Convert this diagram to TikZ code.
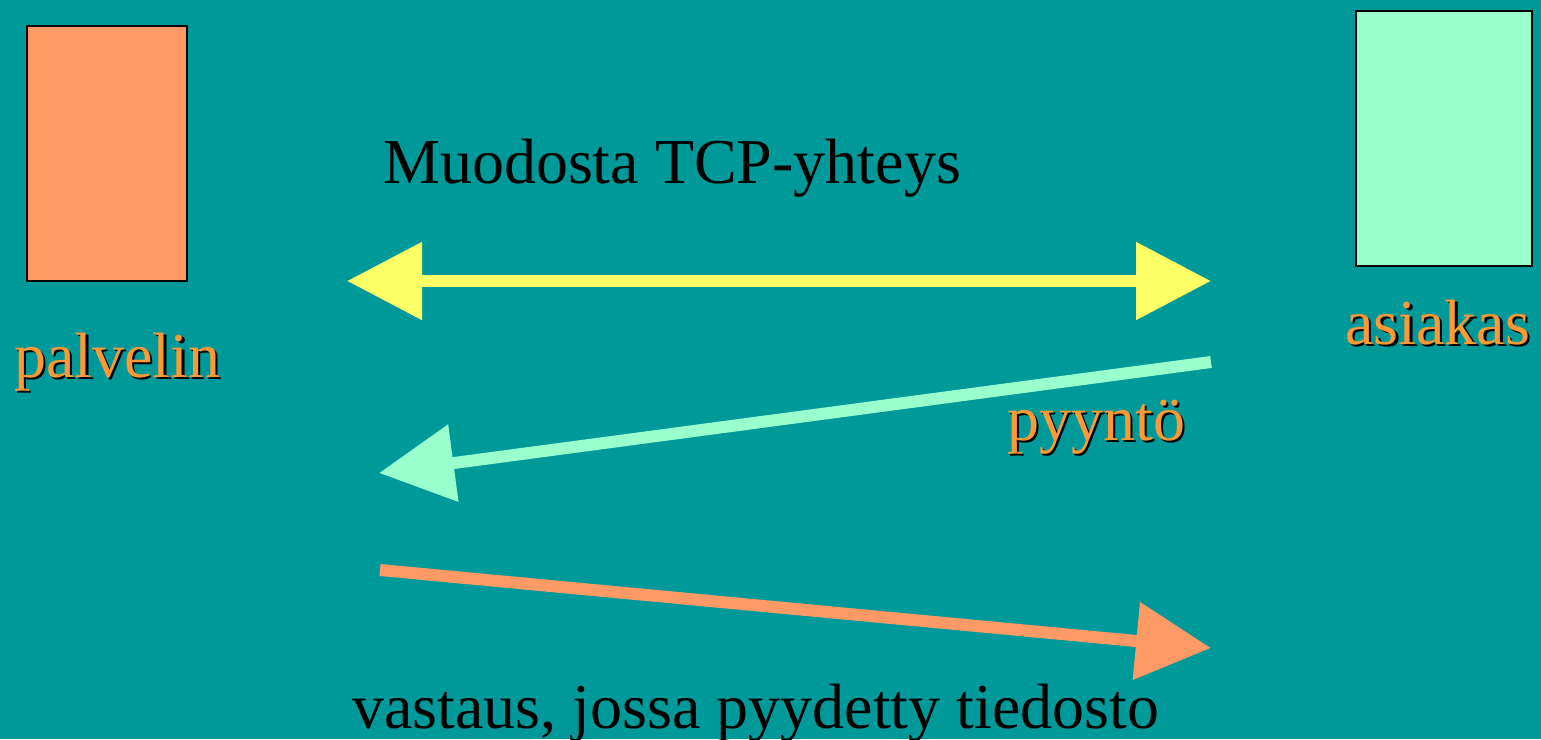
\documentclass[tikz,border=0pt]{standalone}
\usepackage{fontspec}
\setmainfont{Liberation Serif}
\usetikzlibrary{arrows.meta}
\definecolor{bgteal}{RGB}{0,153,153}
\definecolor{boxorange}{RGB}{255,153,102}
\definecolor{boxgreen}{RGB}{153,255,204}
\definecolor{arrowyellow}{RGB}{255,255,102}
\definecolor{textorange}{RGB}{255,153,51}
\tikzset{
  hostbox/.style={draw=black, line width=1.5pt, inner sep=0pt, anchor=north west},
  shadowtext/.style={font=\fontsize{64}{64}\selectfont, inner sep=0pt, anchor=base west},
  bigtext/.style={font=\fontsize{64}{64}\selectfont, inner sep=0pt, anchor=base west, text=black},
  fatarrow/.style={line width=12pt, -{Triangle[length=75pt,width=75pt]}},
  fatdouble/.style={line width=12pt, {Triangle[length=75pt,width=75pt]}-{Triangle[length=75pt,width=75pt]}},
}
\newcommand{\shadowlabel}[3]{%
  \node[shadowtext, text=black] at ([shift={(2.5,2.5)}]#2) {#3};
  \node[shadowtext, text=textorange] (#1) at (#2) {#3};
}
\begin{document}
\begin{tikzpicture}[x=1pt,y=-1pt]
\fill[bgteal] (0,0) rectangle (1541,739);
\useasboundingbox (0,0) rectangle (1541,739);
% hosts
\node[hostbox, fill=boxorange, minimum width=160pt, minimum height=255pt] (palvelinbox) at (26,25) {};
\node[hostbox, fill=boxgreen, minimum width=176pt, minimum height=255pt] (asiakasbox) at (1355,10) {};
% labels
\shadowlabel{palvelin}{14,377}{palvelin}
\shadowlabel{asiakas}{1345,344}{asiakas}
\shadowlabel{pyynto}{1007,440}{pyyntö}
\node[bigtext] (muodosta) at (383,183) {Muodosta TCP-yhteys};
\node[bigtext] (vastaus) at (352,728) {vastaus, jossa pyydetty tiedosto};
% arrow end points
\coordinate (yl) at (347,281);
\coordinate (yr) at (1211,281);
\coordinate (gs) at (1211,362);
\coordinate (ge) at (379,473);
\coordinate (os) at (380,570);
\coordinate (oe) at (1211,648);
% arrows
\draw[fatdouble, arrowyellow] (yl) -- (yr);
\draw[fatarrow, boxgreen] (gs) -- (ge);
\draw[fatarrow, boxorange] (os) -- (oe);
\end{tikzpicture}
\end{document}
